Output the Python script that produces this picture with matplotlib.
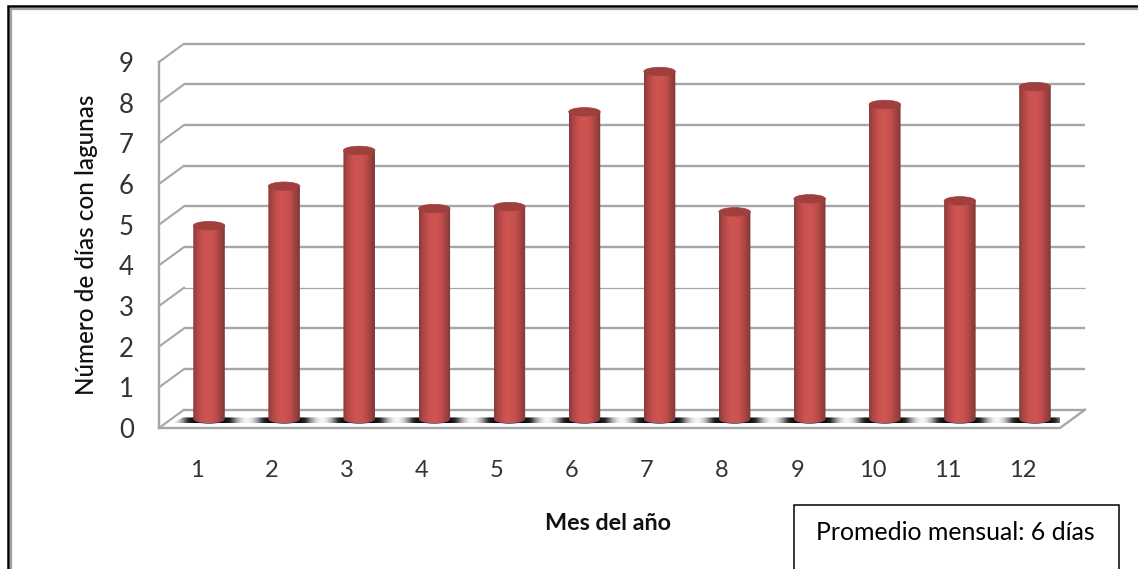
import matplotlib
matplotlib.use("Agg")
import matplotlib.pyplot as plt
import numpy as np
from matplotlib.colors import LinearSegmentedColormap
from matplotlib.lines import Line2D
from matplotlib.patches import PathPatch, Ellipse, Rectangle
from matplotlib.path import Path

plt.rcParams['font.family'] = ['Lato', 'DejaVu Sans']

months = [1, 2, 3, 4, 5, 6, 7, 8, 9, 10, 11, 12]
dias = [4.75, 5.72, 6.60, 5.17, 5.22, 7.55, 8.54, 5.09, 5.41, 7.73, 5.36, 8.17]
y_ticks = [0, 1, 2, 3, 4, 5, 6, 7, 8, 9]

W, H = 1138, 569
DEPTH_X = 0.333   # depth of the 3d box, in months
DEPTH_Y = 0.45    # depth of the 3d box, in days
BAR_W = 0.42
CAP = 0.105       # half height of the cylinder ellipses
GRID = '#a6a6a6'

bar_cmap = LinearSegmentedColormap.from_list(
    'cyl', ['#8a3c3a', '#b04846', '#c8504e', '#cf5553', '#cd5351', '#c04d4b', '#a04240', '#7f3837'])
floor_cmap = LinearSegmentedColormap.from_list('floor', ['#000000', '#262626', '#999999', '#f4f4f4'])


def cylinder(ax, x, h):
    # body of the bar with a rounded bottom, shaded left to right
    x0 = x + DEPTH_X / 2
    y0 = DEPTH_Y / 2
    top = y0 + h
    t = np.linspace(np.pi, 2 * np.pi, 40)
    xs = x0 + BAR_W / 2 * np.cos(t)
    ys = y0 + CAP * np.sin(t)
    verts = np.column_stack([np.r_[xs, x0 + BAR_W / 2, x0 - BAR_W / 2, xs[0]],
                             np.r_[ys, top, top, ys[0]]])
    body = PathPatch(Path(verts), fc='none', ec='none', transform=ax.transData)
    ax.add_patch(body)
    grad = np.linspace(0, 1, 64).reshape(1, -1)
    im = ax.imshow(grad, cmap=bar_cmap, aspect='auto', zorder=3,
                   extent=(x0 - BAR_W / 2, x0 + BAR_W / 2, y0 - CAP, top))
    im.set_clip_path(body)
    ax.add_patch(Ellipse((x0, y0 - 0.02), BAR_W * 0.98, CAP * 1.9, fc='#1f3864', ec='none', zorder=2.5))
    ax.add_patch(Ellipse((x0, top), BAR_W, CAP * 2, fc='#a0403e', ec='#a0403e', lw=0.5, zorder=4))


fig = plt.figure(figsize=(W / 100, H / 100), dpi=100, facecolor='white')
ax = fig.add_axes([159 / W, (H - 428) / H, 901 / W, 366 / H])
ax.set_facecolor('none')
for s in ax.spines.values():
    s.set_visible(False)

# back wall and side wall lines
for v in y_ticks:
    lw = 0.9 if v == 3 else 1.7
    ax.plot([0.5 + DEPTH_X, 12.5 + DEPTH_X], [v + DEPTH_Y, v + DEPTH_Y], color=GRID, lw=lw,
            clip_on=False, zorder=1, solid_capstyle='butt')
    ax.plot([0.5, 0.5 + DEPTH_X], [v, v + DEPTH_Y], color=GRID, lw=1.5, clip_on=False, zorder=1)
ax.plot([0.5, 0.5], [0, 9], color=GRID, lw=1.7, clip_on=False, zorder=1)
ax.plot([0.5, 12.5, 12.5 + DEPTH_X], [0, 0, DEPTH_Y], color=GRID, lw=1.7, clip_on=False, zorder=1)

# dark banded strip on the floor
band_lo, band_hi = 0.12, 0.26
band = PathPatch(Path([(0.68, band_lo), (12.56, band_lo), (12.70, band_hi), (0.82, band_hi), (0.68, band_lo)]),
                 fc='none', ec='none', transform=ax.transData)
ax.add_patch(band)
xx = np.linspace(0.5, 13, 1000)
shade = np.clip(0.5 - 0.5 * np.cos(2 * np.pi * (xx - 1 - DEPTH_X / 2)), 0, 1) ** 2
im = ax.imshow(shade.reshape(1, -1), cmap=floor_cmap, aspect='auto', zorder=2,
               extent=(0.5, 13, band_lo, band_hi), vmin=0, vmax=1)
im.set_clip_path(band)

for m, d in zip(months, dias):
    cylinder(ax, m, d)

ax.set_xlim(0.5, 12.5)
ax.set_ylim(0, 9)
ax.set_xticks(months)
ax.set_yticks(y_ticks)
ax.tick_params(axis='both', length=0, colors='#333333')
ax.tick_params(axis='x', labelsize=17, pad=23)
ax.tick_params(axis='y', labelsize=18.5, pad=18)


def fx(px):
    return px / W


def fy(px):
    return 1 - px / H


fig.text(fx(87), fy(245), 'Número de días con lagunas', rotation=90, ha='center', va='center',
         fontsize=17.5, color='#111111', fontweight='medium')
fig.text(fx(608), fy(524), 'Mes del año', ha='center', va='center', fontsize=16.8,
         fontweight='bold', color='#111111')

# note box, cut by the bottom of the page
fig.add_artist(Rectangle((fx(794), fy(575)), 325 / W, 70 / H, fc='white', ec='black', lw=1.1,
                         transform=fig.transFigure))
fig.text(fx(955), fy(533), 'Promedio mensual: 6 días', ha='center', va='center', fontsize=17.9, color='black')

# page frame along the left and top edges
fig.add_artist(Line2D([fx(8), fx(8), 1], [0, fy(6), fy(6)], color='black', lw=1.8, solid_joinstyle='miter'))
fig.add_artist(Line2D([fx(11), fx(11), 1], [0, fy(8.5), fy(8.5)], color='#a0a0a0', lw=1.6, solid_joinstyle='miter'))

fig.savefig('out.png', dpi=100)
